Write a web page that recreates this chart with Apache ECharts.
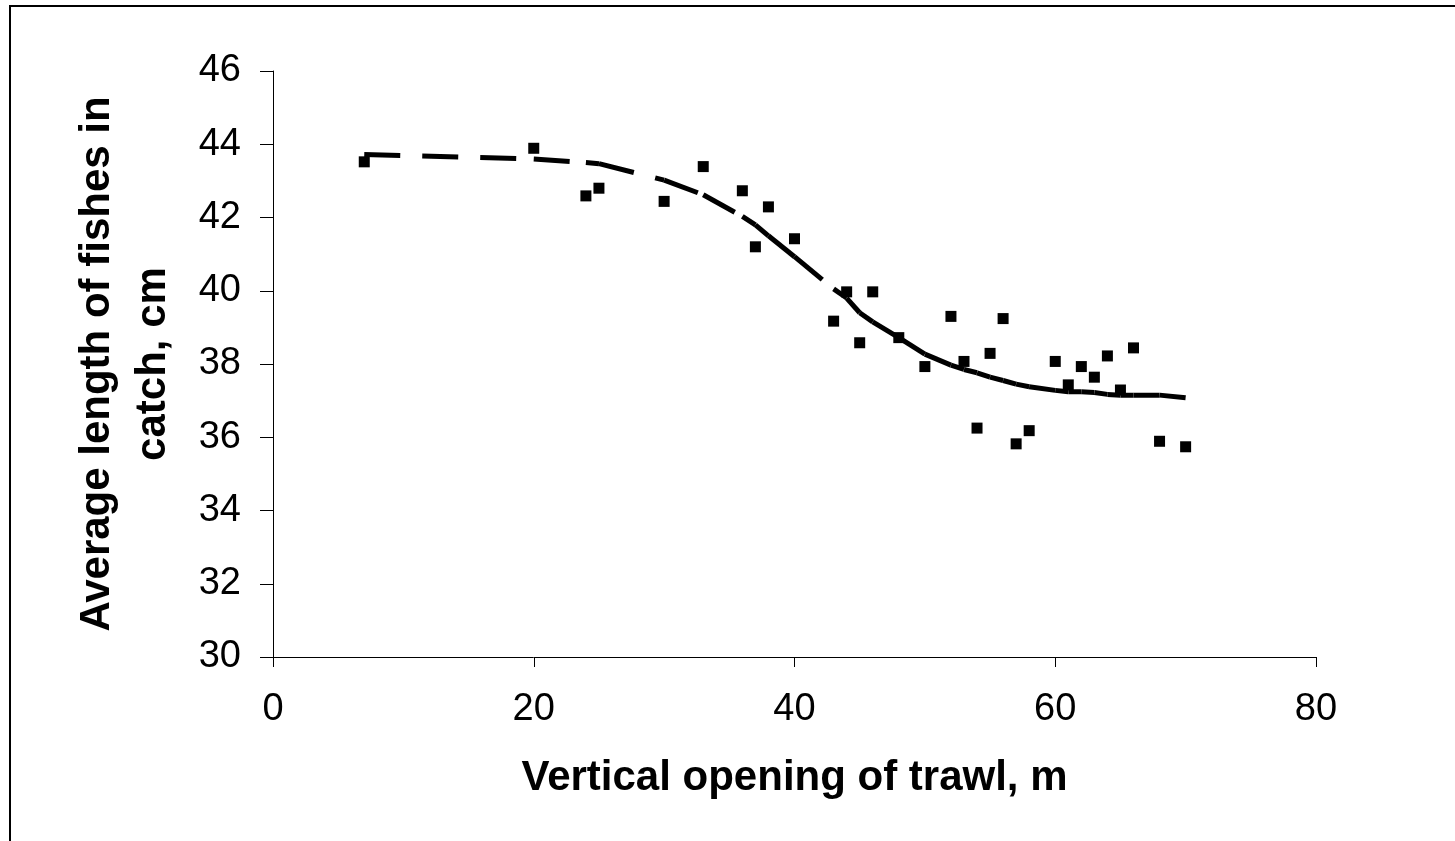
<!DOCTYPE html>
<html>
<head>
<meta charset="utf-8">
<script src="https://cdn.jsdelivr.net/npm/echarts@6/dist/echarts.min.js"></script>
<style>
html,body{margin:0;padding:0;background:#fff;}
#c{width:1455px;height:841px;}
</style>
</head>
<body>
<div id="c"></div>
<script>
// Observations: vertical opening of trawl (m) vs average fish length (cm)
const obsX = [7, 20, 24, 25, 30, 33, 36, 37, 38, 40, 43, 44, 45, 46, 48, 50, 52, 53, 54, 55, 56, 57, 58, 60, 61, 62, 63, 64, 65, 66, 68, 70];
const obsY = [43.52, 43.89, 42.59, 42.8, 42.44, 43.39, 42.73, 41.2, 42.29, 41.42, 39.17, 39.97, 38.58, 39.97, 38.72, 37.93, 39.3, 38.07, 36.25, 38.29, 39.24, 35.82, 36.18, 38.07, 37.43, 37.93, 37.64, 38.22, 37.29, 38.44, 35.89, 35.74];
// Fitted trend values at the same x positions
const trendY = [43.72, 43.6, 43.5, 43.47, 43.02, 42.62, 42.03, 41.8, 41.5, 40.93, 40.05, 39.8, 39.4, 39.15, 38.72, 38.27, 37.97, 37.85, 37.76, 37.64, 37.55, 37.45, 37.38, 37.28, 37.24, 37.24, 37.22, 37.17, 37.15, 37.15, 37.15, 37.08];
// Axis ticks
const xTicks = [0, 20, 40, 60, 80];
const yTicks = [30, 32, 34, 36, 38, 40, 42, 44, 46];

const FONT = "'Liberation Sans', Arial, sans-serif";

const series = [];
// Trend line drawn segment by segment (dash pattern restarts per segment)
for (let i = 0; i < obsX.length - 1; i++) {
  series.push({
    type: 'line',
    data: [[obsX[i], trendY[i]], [obsX[i + 1], trendY[i + 1]]],
    showSymbol: false,
    symbol: 'none',
    silent: true,
    z: 2,
    lineStyle: { color: '#000', width: 5, type: [36, 22], cap: 'butt' }
  });
}
series.push({
  type: 'scatter',
  data: obsX.map((x, i) => [x, obsY[i]]),
  symbol: 'rect',
  symbolSize: 11,
  z: 3,
  itemStyle: { color: '#000', opacity: 1 }
});

const chart = echarts.init(document.getElementById('c'), null, { renderer: 'canvas' });
chart.setOption({
  animation: false,
  backgroundColor: '#fff',
  graphic: [{
    type: 'rect',
    shape: { x: 10, y: 6, width: 1500, height: 900 },
    style: { fill: 'none', stroke: '#000', lineWidth: 2 },
    silent: true
  }],
  grid: { left: 273, right: 139, top: 71, bottom: 184, containLabel: false },
  xAxis: {
    type: 'value',
    min: xTicks[0],
    max: xTicks[xTicks.length - 1],
    interval: xTicks[1] - xTicks[0],
    name: 'Vertical opening of trawl, m',
    nameLocation: 'middle',
    nameGap: 100,
    nameTextStyle: { fontFamily: FONT, fontSize: 42, fontWeight: 'bold', color: '#000' },
    axisLine: { show: true, lineStyle: { color: '#000', width: 1 } },
    axisTick: { show: true, inside: false, length: 10, lineStyle: { color: '#000', width: 1 } },
    axisLabel: { fontFamily: FONT, fontSize: 38, color: '#000', margin: 34 },
    splitLine: { show: false }
  },
  yAxis: {
    type: 'value',
    min: yTicks[0],
    max: yTicks[yTicks.length - 1],
    interval: yTicks[1] - yTicks[0],
    name: 'Average length of fishes in\ncatch, cm',
    nameLocation: 'middle',
    nameRotate: 90,
    nameGap: 92,
    nameTextStyle: { fontFamily: FONT, fontSize: 42, fontWeight: 'bold', color: '#000', lineHeight: 56, align: 'center' },
    axisLine: { show: true, lineStyle: { color: '#000', width: 1 } },
    axisTick: { show: true, inside: false, length: 13, lineStyle: { color: '#000', width: 1 } },
    axisLabel: { fontFamily: FONT, fontSize: 38, color: '#000', margin: 32 },
    splitLine: { show: false }
  },
  series: series
});
</script>
</body>
</html>
